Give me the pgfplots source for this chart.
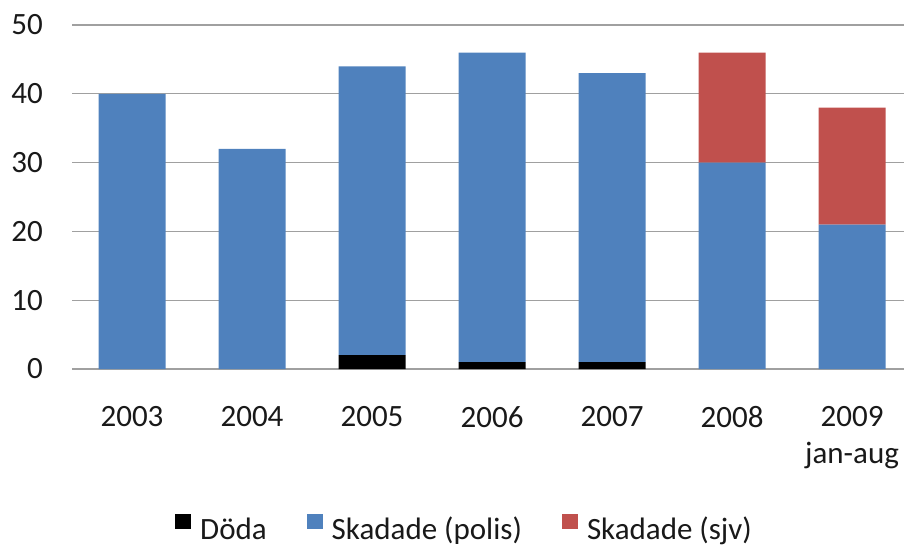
\documentclass[border=0pt]{standalone}
\usepackage{fontspec}
\setmainfont{Carlito}
\usepackage{pgfplots}
\pgfplotsset{compat=1.18}
\definecolor{cblue}{RGB}{79,129,189}
\definecolor{cred}{RGB}{192,80,77}
\definecolor{cgrid}{RGB}{160,160,160}
\begin{document}
\begin{tikzpicture}
\begin{axis}[
  at={(72bp,179bp)}, anchor=south west,
  scale only axis, width=832bp, height=344bp,
  ybar stacked, bar width=67bp,
  xmin=-0.5, xmax=6.433, ymin=0, ymax=50,
  xtick={0,1,2,3,4,5,6},
  xticklabels={2003,2004,2005,2006,2007,2008,{2009\\jan-aug}},
  ytick={0,10,20,30,40,50},
  ymajorgrids, grid style={cgrid, line width=1.3bp},
  axis line style={draw=none},
  major tick length=0pt,
  /pgf/number format/assume math mode=true,
  tick label style={font=\fontsize{31bp}{37bp}\selectfont, text=black!90},
  yticklabel style={anchor=east, inner sep=0pt, xshift=-29bp},
  xticklabel style={anchor=north, inner sep=0pt, yshift=-37bp, align=center},
  legend columns=3,
  legend style={draw=none, inner sep=0pt, at={(0.1238,-0.464)}, anchor=west,
    font=\fontsize{31bp}{37bp}\selectfont, text=black!90,
    /tikz/every even column/.append style={column sep=38bp},
    /tikz/every odd column/.append style={column sep=7bp}},
  legend image code/.code={\fill[#1] (0bp,0bp) rectangle (16bp,15bp);},
]
\addplot[fill=black, draw=none] coordinates {(0,0) (1,0) (2,2) (3,1) (4,1) (5,0) (6,0)};
\addplot[fill=cblue, draw=none] coordinates {(0,40) (1,32) (2,42) (3,45) (4,42) (5,30) (6,21)};
\addplot[fill=cred, draw=none] coordinates {(0,0) (1,0) (2,0) (3,0) (4,0) (5,16) (6,17)};
\legend{Döda, Skadade (polis), Skadade (sjv)}
\end{axis}
\pgfresetboundingbox
\useasboundingbox (0,0) rectangle (904bp,548bp);
\end{tikzpicture}
\end{document}
